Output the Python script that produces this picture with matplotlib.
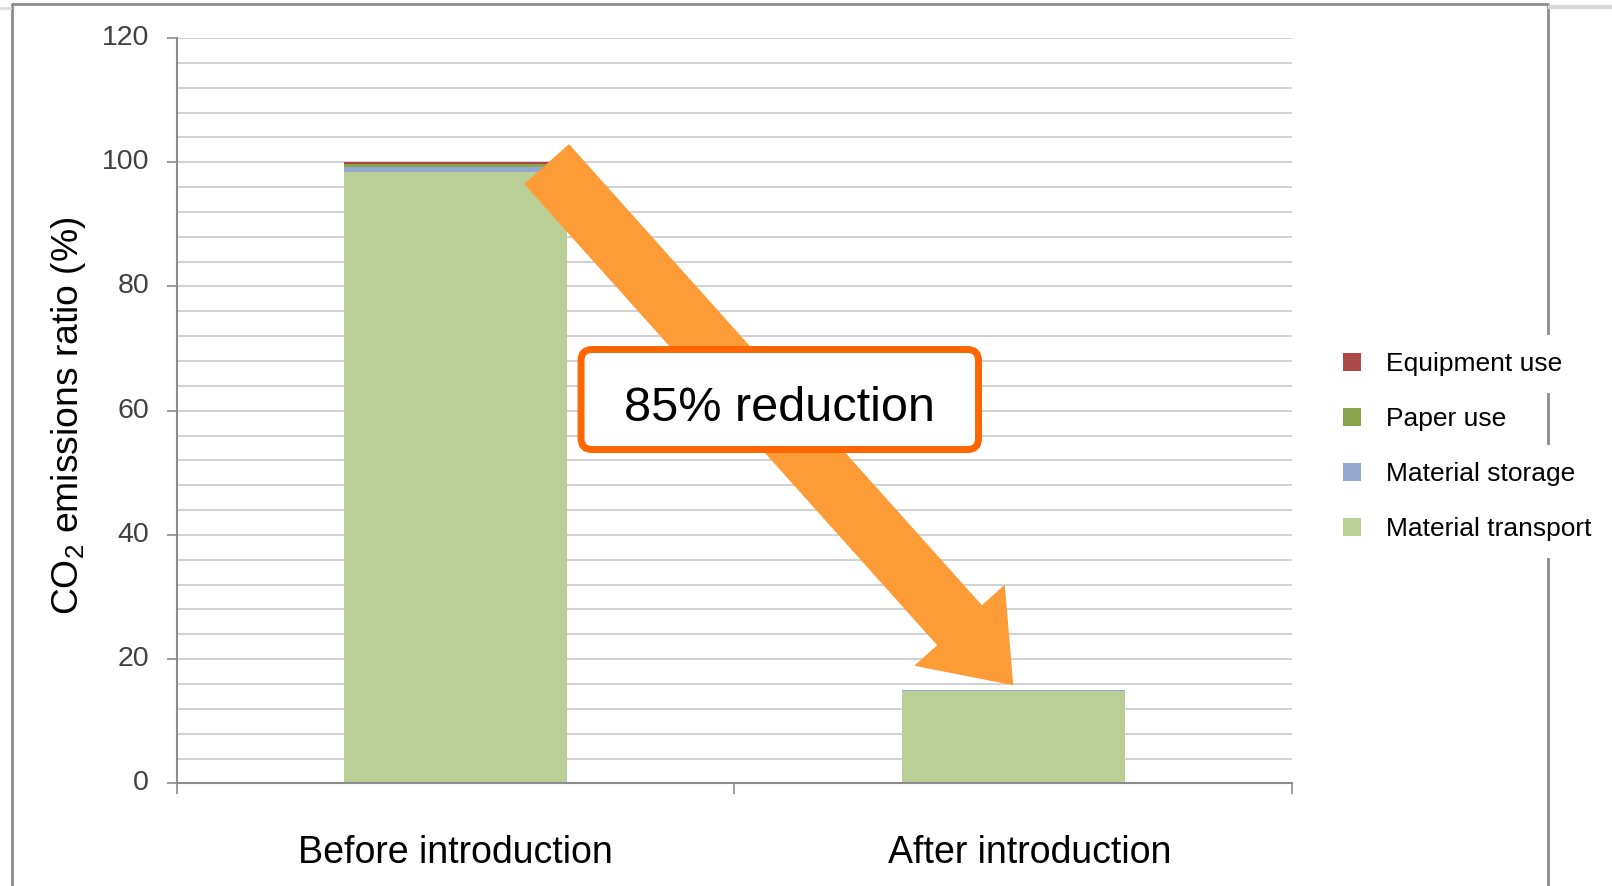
# %%
# ---------------------------------------------------------
# CO2 emissions ratio before / after introduction
# ---------------------------------------------------------
import matplotlib
matplotlib.use("Agg")
import matplotlib.pyplot as plt
from matplotlib.patches import Patch, FancyBboxPatch, FancyArrowPatch
from matplotlib.lines import Line2D
from matplotlib.ticker import MultipleLocator, FixedLocator
from matplotlib.transforms import ScaledTranslation
import numpy as np

plt.rcParams["font.family"] = ["Liberation Sans", "DejaVu Sans"]
plt.rcParams["mathtext.fontset"] = "custom"
plt.rcParams["mathtext.rm"] = "Liberation Sans"
plt.rcParams["mathtext.it"] = "Liberation Sans:italic"
plt.rcParams["mathtext.bf"] = "Liberation Sans:bold"

# %%
# ---------------------------------------------------------
# Data
# ---------------------------------------------------------
categories = ["Before introduction", "After introduction"]
material_transport = [98.5, 14.9]
material_storage = [0.8, 0.2]
paper_use = [0.4, 0.0]
equipment_use = [0.3, 0.0]

series_names = ["Material transport", "Material storage", "Paper use", "Equipment use"]
series_colors = ["#b9cf96", "#93a9d1", "#86a44a", "#ac4845"]
y_ticks = [0, 20, 40, 60, 80, 100, 120]
reduction_text = "85% reduction"

# %%
# ---------------------------------------------------------
# Figure / axes
# ---------------------------------------------------------
W, H = 1612, 886
fig = plt.figure(figsize=(W / 100, H / 100), dpi=100)
ax = fig.add_axes([177 / W, 1 - 783.4 / H, 1115 / W, 745.4 / H])

x = np.arange(len(categories))
bottom = np.zeros(len(categories))
for vals, name, col in zip(
    [material_transport, material_storage, paper_use, equipment_use],
    series_names,
    series_colors,
):
    ax.bar(x, vals, width=0.4, bottom=bottom, color=col, label=name, zorder=2)
    bottom += np.array(vals)

ax.set_xlim(-0.5, 1.5)
ax.set_ylim(0, 120)

# y axis: labels every 20, gridlines every 4
ax.yaxis.set_major_locator(FixedLocator(y_ticks))
ax.yaxis.set_minor_locator(MultipleLocator(4))
ax.grid(axis="y", which="both", color="#c9c9c9", lw=1.2, zorder=0)
ax.set_axisbelow(True)
ax.tick_params(axis="y", which="minor", length=0)
ax.tick_params(axis="y", which="major", length=7, width=1.2, color="#8c8c8c",
               pad=13, labelsize=20.5, labelcolor="#404040")

# x axis: tick marks at category borders, labels near centres
label_shift = [0.0, 0.03]
ax.set_xticks([-0.5, 0.5, 1.5])
ax.set_xticklabels(["", "", ""])
ax.set_xticks(x + np.array(label_shift), minor=True)
ax.set_xticklabels(categories, minor=True)
ax.tick_params(axis="x", which="major", length=8, width=1.2, color="#8c8c8c")
ax.tick_params(axis="x", which="minor", length=0, pad=37, labelsize=27)

for s in ["top", "right"]:
    ax.spines[s].set_visible(False)
for s in ["left", "bottom"]:
    ax.spines[s].set_color("#8c8c8c")
    ax.spines[s].set_linewidth(1.5)

ax.set_ylabel(r"CO$_2$ emissions ratio (%)", fontsize=26.8)
ax.yaxis.set_label_coords(-0.080, 0.493)

# %%
# ---------------------------------------------------------
# Reduction arrow and call-out box
# ---------------------------------------------------------
arrow = FancyArrowPatch(
    posA=(0.163, 99.7), posB=(1.0, 15.8),
    arrowstyle="simple,head_length=58,head_width=87.5,tail_width=43.2",
    mutation_scale=1, color="#fd9b37", lw=0, shrinkA=0, shrinkB=0, zorder=5,
)
ax.add_patch(arrow)

cx, cy, bw, bh = 0.5812, 61.8, 0.713, 16.1
box = FancyBboxPatch(
    (cx - bw / 2, cy - bh / 2), bw, bh,
    boxstyle="round,pad=0,rounding_size=0.0197", mutation_aspect=89.75,
    fc="white", ec="#ff6600", lw=5, zorder=6,
)
ax.add_patch(box)
ax.text(cx, 58.3, reduction_text, ha="center", va="baseline", fontsize=35, zorder=7)

# %%
# ---------------------------------------------------------
# Outer frame and legend
# ---------------------------------------------------------
fig.add_artist(Line2D([11.7 / W, 11.7 / W, 1548 / W, 1548 / W],
                      [0, 1 - 4 / H, 1 - 4 / H, 0],
                      transform=fig.transFigure, color="#8c8c8c", lw=2, zorder=1))
fig.add_artist(Line2D([1550 / W, 1], [1 - 7 / H] * 2, transform=fig.transFigure,
                      color="#d6d6d6", lw=3, zorder=1))
fig.add_artist(Line2D([0, 10 / W], [1 - 8 / H] * 2, transform=fig.transFigure,
                      color="#dcdcdc", lw=2, zorder=1))

handles = [Patch(facecolor=c, edgecolor="none") for c in reversed(series_colors)]
leg = fig.legend(handles, list(reversed(series_names)), loc="upper left",
                 bbox_to_anchor=(1343 / W, 1 - 352 / H), frameon=False,
                 fontsize=19, handlelength=0.68, handleheight=0.68,
                 handletextpad=0.95, labelspacing=1.175, borderpad=0,
                 borderaxespad=0)
leg.set_zorder(10)
for t in leg.get_texts():
    t.set_bbox(dict(facecolor="white", edgecolor="none", pad=12))

# y tick labels sit a little above their gridlines in the original
up = ScaledTranslation(0, 3 / 100, fig.dpi_scale_trans)
for lbl in ax.get_yticklabels():
    lbl.set_transform(lbl.get_transform() + up)

fig.savefig("out.png", dpi=100)
